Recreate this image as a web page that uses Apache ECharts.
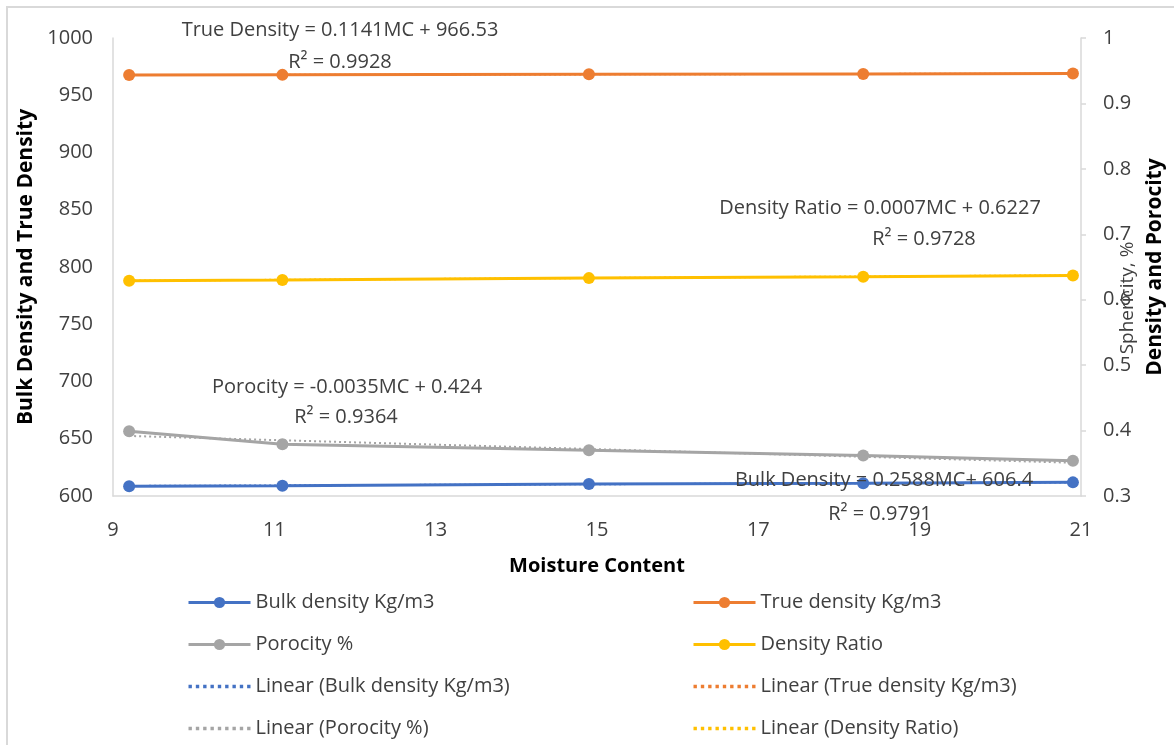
<!DOCTYPE html>
<html><head><meta charset="utf-8">
<script src="https://cdn.jsdelivr.net/npm/echarts@6/dist/echarts.min.js"></script>
<style>html,body{margin:0;padding:0;background:#fff}#c{width:1174px;height:745px}</style>
</head><body><div id="c"></div>
<script>
// Data
const moisture = [9.2, 11.1, 14.9, 18.3, 20.9];
const bulkDensity = [608.6, 609.0, 610.4, 611.1, 611.9];
const trueDensity = [967.6, 967.8, 968.3, 968.6, 968.9];
const porocity = [0.399, 0.379, 0.370, 0.362, 0.354];
const densityRatio = [0.629, 0.630, 0.633, 0.635, 0.637];
// Linear trendline coefficients as printed on the chart (slope, intercept)
const trendNames = ['Bulk density Kg/m3', 'True density Kg/m3', 'Porocity %', 'Density Ratio'];
const trendSlope = [0.2588, 0.1141, -0.0035, 0.0007];
const trendIntercept = [606.4, 966.53, 0.424, 0.6227];
const trendR2 = ['0.9791', '0.9928', '0.9364', '0.9728'];
const xTicks = [9, 11, 13, 15, 17, 19, 21];

const FONT = '"Open Sans", Lato, sans-serif';
const FS = 20;
const colors = ['#4472C4', '#ED7D31', '#A5A5A5', '#FFC000'];
const values = [bulkDensity, trueDensity, porocity, densityRatio];
const yIdx = [0, 0, 1, 1];

function trend(i) {
  const x0 = moisture[0], x1 = moisture[moisture.length - 1];
  return [[x0, trendSlope[i] * x0 + trendIntercept[i]], [x1, trendSlope[i] * x1 + trendIntercept[i]]];
}

// dotted legend icon
let dotPath = 'path://';
for (let k = 0; k < 9; k++) dotPath += 'M' + (k * 6.5) + ' 0h3v3h-3z ';

const series = [];
trendNames.forEach((n, i) => {
  series.push({
    name: n, type: 'line', yAxisIndex: yIdx[i],
    data: moisture.map((x, k) => [x, values[i][k]]),
    symbol: 'circle', symbolSize: 12,
    lineStyle: { color: colors[i], width: 3 },
    itemStyle: { color: colors[i] },
    z: 2
  });
});
trendNames.forEach((n, i) => {
  series.push({
    name: 'Linear (' + n + ')', type: 'line', yAxisIndex: yIdx[i],
    data: trend(i), symbol: 'none',
    lineStyle: { color: colors[i], width: 2, type: [2, 3] },
    itemStyle: { color: colors[i] },
    z: 3
  });
});

function eq(label, i) {
  return label + ' = ' + trendSlope[i] + 'MC + ' + trendIntercept[i];
}

const txt = (x, y, text) => ({
  type: 'text', x: x, y: y,
  style: { text: text, font: FS + 'px ' + FONT, fill: '#404040', align: 'center', verticalAlign: 'middle' },
  z: 10
});

const legendCommon = {
  orient: 'vertical', itemWidth: 62, itemHeight: 14, itemGap: 19, height: 220,
  textStyle: { fontFamily: FONT, fontSize: FS, color: '#404040', lineHeight: 23 },
  lineStyle: { width: 3 },
  selectedMode: false
};
const legItem = (name, dotted) => dotted ? { name: name, icon: dotPath } : { name: name };

const chart = echarts.init(document.getElementById('c'), null, { renderer: 'canvas' });
chart.setOption({
  animation: false,
  color: colors,
  grid: { left: 113, right: 91, top: 38, bottom: 249, containLabel: false },
  xAxis: {
    type: 'value', min: 9, max: 21, interval: 2,
    name: 'Moisture Content', nameLocation: 'middle', nameGap: 60,
    nameTextStyle: { fontFamily: FONT, fontSize: 20, fontWeight: 'bold', color: '#000' },
    axisLine: { show: true, lineStyle: { color: '#d9d9d9', width: 1.5 } },
    axisTick: { show: false },
    axisLabel: { fontFamily: FONT, fontSize: FS, color: '#404040', margin: 24,
      formatter: v => xTicks.includes(v) ? String(v) : '' },
    splitLine: { show: false }
  },
  yAxis: [{
    type: 'value', min: 600, max: 1000, interval: 50,
    name: 'Bulk Density and True Density', nameLocation: 'middle', nameGap: 72, nameRotate: 90,
    nameTextStyle: { fontFamily: FONT, fontSize: 21, fontWeight: 'bold', color: '#000' },
    axisLine: { show: true, lineStyle: { color: '#d9d9d9', width: 1.5 } },
    axisTick: { show: false },
    axisLabel: { fontFamily: FONT, fontSize: FS, color: '#404040', margin: 20, formatter: v => String(v) },
    splitLine: { show: false }
  }, {
    type: 'value', min: 0.3, max: 1, interval: 0.1, position: 'right',
    name: 'Density and Porocity', nameLocation: 'middle', nameGap: 64, nameRotate: 90,
    nameTextStyle: { fontFamily: FONT, fontSize: 21, fontWeight: 'bold', color: '#000' },
    axisLine: { show: true, lineStyle: { color: '#d9d9d9', width: 1.5 } },
    axisTick: { show: true, length: 5, inside: false, lineStyle: { color: '#d9d9d9', width: 1.5 } },
    axisLabel: { fontFamily: FONT, fontSize: FS, color: '#404040', margin: 22,
      formatter: v => String(Math.round(v * 10) / 10) },
    splitLine: { show: false }
  }],
  legend: [
    Object.assign({}, legendCommon, { left: 182, top: 586,
      data: [legItem('Bulk density Kg/m3'), legItem('Porocity %'),
             legItem('Linear (Bulk density Kg/m3)', true), legItem('Linear (Porocity %)', true)] }),
    Object.assign({}, legendCommon, { left: 687, top: 586,
      data: [legItem('True density Kg/m3'), legItem('Density Ratio'),
             legItem('Linear (True density Kg/m3)', true), legItem('Linear (Density Ratio)', true)] })
  ],
  graphic: [
    { type: 'rect', shape: { x: 7, y: 7, width: 1200, height: 800 }, style: { fill: 'none', stroke: '#d9d9d9', lineWidth: 2 }, silent: true, z: -1 },
    txt(340, 30, eq('True Density', 1)),
    txt(340, 62, 'R² = ' + trendR2[1]),
    txt(880, 208, eq('Density Ratio', 3)),
    txt(924, 239, 'R² = ' + trendR2[3]),
    txt(347, 387, eq('Porocity', 2)),
    txt(346, 417, 'R² = ' + trendR2[2]),
    txt(884, 480, 'Bulk Density = ' + trendSlope[0] + 'MC+ ' + trendIntercept[0]),
    txt(880, 514, 'R² = ' + trendR2[0]),
    { type: 'text', x: 1128, y: 298, rotation: Math.PI / 2,
      style: { text: 'Sphericity, %', font: '19px ' + FONT, fill: '#404040', align: 'center', verticalAlign: 'middle' }, z: 10 }
  ],
  series: series
});
</script>
</body></html>
